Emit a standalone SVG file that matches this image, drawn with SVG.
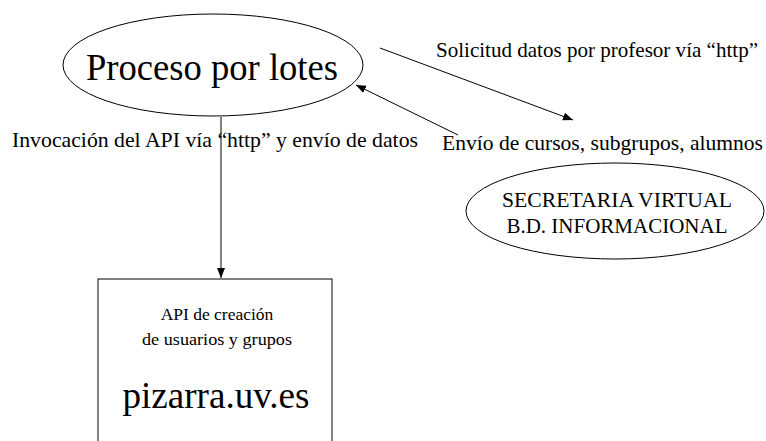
<svg xmlns="http://www.w3.org/2000/svg" width="766" height="441" viewBox="0 0 766 441">
<style>
.shape{fill:#fff;stroke:#000;stroke-width:1}
.conn{stroke:#000;stroke-width:1;fill:none}
.lbl{font-size:21px}
</style>
<defs>
<marker id="ah" viewBox="0 0 10 10" refX="10" refY="5" markerWidth="10" markerHeight="10" markerUnits="userSpaceOnUse" orient="auto">
<path d="M0,1 L10,5 L0,9 Z" fill="#000"/>
</marker>
</defs>
<rect width="766" height="441" fill="#fff"/>
<g font-family="'Liberation Serif', 'DejaVu Serif', 'Times New Roman', serif" fill="#000">
<g id="proceso">
<ellipse class="shape" cx="213" cy="65" rx="150" ry="51"/>
<text x="212" y="80" font-size="37" text-anchor="middle" textLength="252" lengthAdjust="spacingAndGlyphs">Proceso por lotes</text>
</g>
<g id="secretaria">
<ellipse class="shape" cx="615" cy="211" rx="149" ry="48"/>
<text x="617" y="207" font-size="21" text-anchor="middle" textLength="230" lengthAdjust="spacingAndGlyphs">SECRETARIA VIRTUAL</text>
<text x="617" y="233" font-size="21" text-anchor="middle">B.D. INFORMACIONAL</text>
</g>
<g id="pizarra">
<rect class="shape" x="98" y="279" width="234" height="170"/>
<text x="217" y="320" font-size="17.5" text-anchor="middle">API de creación</text>
<text x="217" y="345" font-size="17.5" text-anchor="middle" textLength="150" lengthAdjust="spacingAndGlyphs">de usuarios y grupos</text>
<text x="216" y="408" font-size="37" text-anchor="middle" textLength="187" lengthAdjust="spacingAndGlyphs">pizarra.uv.es</text>
</g>
<g id="connectors">
<line class="conn" x1="221" y1="117" x2="221" y2="278" marker-end="url(#ah)"/>
<line class="conn" x1="380" y1="48" x2="573" y2="120" marker-end="url(#ah)"/>
<line class="conn" x1="458" y1="135" x2="356" y2="85" marker-end="url(#ah)"/>
</g>
<g id="labels">
<text class="lbl" x="12" y="147" textLength="406" lengthAdjust="spacingAndGlyphs">Invocación del API vía “http” y envío de datos</text>
<text class="lbl" x="436" y="57" textLength="322" lengthAdjust="spacingAndGlyphs">Solicitud datos por profesor vía “http”</text>
<text class="lbl" x="442" y="150" textLength="321" lengthAdjust="spacingAndGlyphs">Envío de cursos, subgrupos, alumnos</text>
</g>
</g>
</svg>
